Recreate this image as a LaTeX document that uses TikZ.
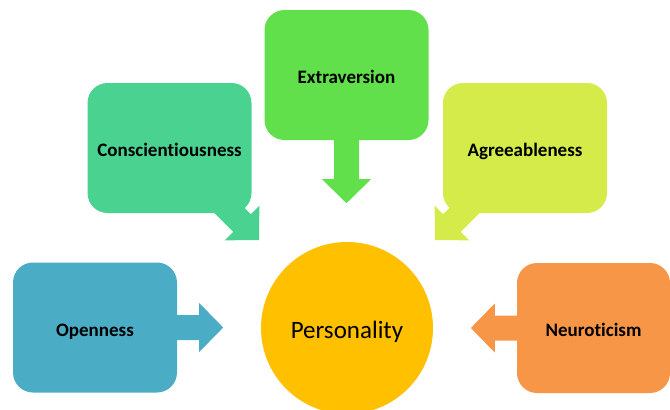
\documentclass[tikz,border=0pt]{standalone}
\usepackage{fontspec}
\setmainfont[Ligatures=NoCommon]{Carlito}
\usepackage{tikz}
\usetikzlibrary{calc}
\definecolor{openc}{RGB}{75,172,198}
\definecolor{consc}{RGB}{74,210,145}
\definecolor{extrc}{RGB}{98,224,76}
\definecolor{agrec}{RGB}{212,235,74}
\definecolor{neurc}{RGB}{247,150,70}
\definecolor{persc}{RGB}{255,192,0}
\tikzset{
  trait/.style={rounded corners=20pt, minimum width=164pt, minimum height=130pt,
    inner sep=0pt, text height=17pt, text depth=0pt,
    font=\fontsize{19}{22}\selectfont\bfseries},
  core/.style={circle, minimum size=172pt, inner sep=0pt,
    text height=20pt, text depth=0pt, font=\fontsize{25}{30}\selectfont}
}
\newcommand\BFarrow[3]{
  \def\C{#1} \def\T{#2} \def\H{#3}
  \coordinate (hb) at ($(\H)!24pt!(\T)$);
  \fill[\C] ($(\T)!12.5pt!90:(\H)$) -- ($(hb)!12.5pt!90:(\H)$)
    -- ($(hb)!24.5pt!90:(\H)$) -- (\H) -- ($(hb)!24.5pt!-90:(\H)$)
    -- ($(hb)!12.5pt!-90:(\H)$) -- ($(\T)!12.5pt!-90:(\H)$) -- cycle;
}

\begin{document}
\begin{tikzpicture}[x=1pt, y=-1pt]
\useasboundingbox (0,0) rectangle (670,410);
\node[trait, fill=openc] (open) at (95,327.5) {Openness};
\node[trait, fill=consc] (cons) at (169.5,148) {Conscientiousness};
\node[trait, fill=extrc] (extr) at (346.5,75) {Extraversion};
\node[trait, fill=agrec] (agre) at (525,148) {Agreeableness};
\node[trait, fill=neurc, minimum width=153pt] (neur) at (593.5,328) {Neuroticism};
\node[core, fill=persc] (pers) at (347,328) {Personality};

\coordinate (openTail) at ($(open.east)+(-3,0)$);
\coordinate (openTip) at ($(open.east)+(46,0)$);
\coordinate (extrTail) at ($(extr.south)+(0,-3)$);
\coordinate (extrTip) at ($(extr.south)+(0,63)$);
\coordinate (neurTail) at ($(neur.west)+(3,0)$);
\coordinate (neurTip) at ($(neur.west)+(-46,0)$);
\coordinate (consTip) at (259,240);
\coordinate (consTail) at ($(consTip)+(-50,-50)$);
\coordinate (agreTip) at (435,240);
\coordinate (agreTail) at ($(agreTip)+(50,-50)$);

\BFarrow{openc}{openTail}{openTip}
\BFarrow{consc}{consTail}{consTip}
\BFarrow{extrc}{extrTail}{extrTip}
\BFarrow{agrec}{agreTail}{agreTip}
\BFarrow{neurc}{neurTail}{neurTip}
\end{tikzpicture}
\end{document}
